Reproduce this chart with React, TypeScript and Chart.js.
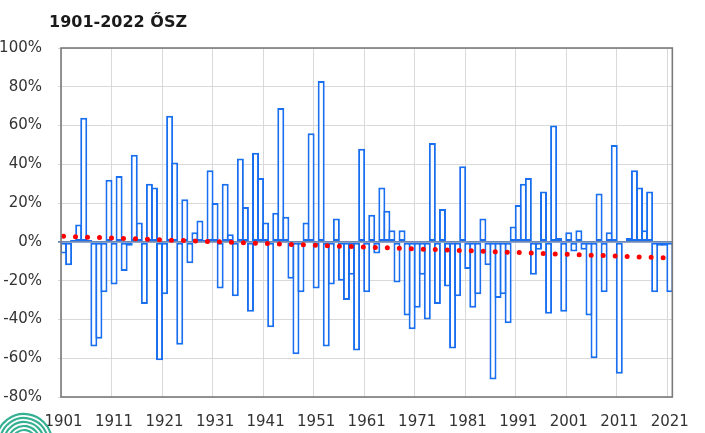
import React, { useEffect, useRef } from 'react';
import { Chart, registerables } from 'chart.js';

Chart.register(...registerables);

const titleText = '1901-2022 ŐSZ';
const firstYear = 1901;
const lastYear = 2021;
const years: string[] = [];
for (let y = firstYear; y <= lastYear; y++) years.push(String(y));

// autumn precipitation anomaly, % (1901 ... 2021)
const autumnAnomaly = [
  -6, -12, 1, 9, 64, 1, -54, -50, -26, 32,
  -22, 34, -15, -2, 45, 10, -32, 30, 28, -61,
  -27, 65, 41, -53, 22, -11, 5, 11, 1, 37,
  20, -24, 30, 4, -28, 43, 18, -36, 46, 33,
  10, -44, 15, 69, 13, -19, -58, -26, 10, 56,
  -24, 83, -54, -22, 12, -20, -30, -17, -56, 48,
  -26, 14, -6, 28, 16, 6, -21, 6, -38, -45,
  -34, -17, -40, 51, -32, 17, -23, -55, -28, 39,
  -14, -34, -27, 12, -12, -71, -29, -27, -42, 8,
  19, 30, 33, -17, -4, 26, -37, 60, 2, -36,
  5, -5, 6, -4, -38, -60, 25, -26, 5, 50,
  -68, 0, 2, 37, 28, 6, 26, -26, -2, -2, -26,
];

// linear trend end values, %
const trendStart = 2.9;
const trendEnd = -8.3;

const xTickYears = ['1901', '1911', '1921', '1931', '1941', '1951', '1961', '1971', '1981', '1991', '2001', '2011', '2021'];
const yTickValues = [-80, -60, -40, -20, 0, 20, 40, 60, 80, 100];

const FONT = '"DejaVu Sans", sans-serif';

export default function App() {
  const ref = useRef<HTMLCanvasElement>(null);

  useEffect(() => {
    const canvas = ref.current!;
    const trendData = years.map((_, i) =>
      i === 0 ? trendStart : i === years.length - 1 ? trendEnd : null
    );

    const framePlugin = {
      id: 'frame',
      afterDatasetsDraw(chart: any) {
        const { ctx, chartArea: a } = chart;
        ctx.save();
        ctx.strokeStyle = '#7a7a7a';
        ctx.lineWidth = 1.6;
        ctx.strokeRect(a.left, a.top, a.right - a.left, a.bottom - a.top);
        ctx.restore();
      },
      afterDraw(chart: any) {
        const { ctx } = chart;
        ctx.save();
        ctx.font = `bold 16px ${FONT}`;
        ctx.fillStyle = '#1a1a1a';
        ctx.textBaseline = 'alphabetic';
        ctx.textAlign = 'left';
        ctx.fillText(titleText, 49, 27);
        // logo fragment
        ctx.strokeStyle = '#35b093';
        ctx.lineWidth = 2.2;
        for (let r = 8; r <= 28; r += 4) {
          ctx.beginPath();
          ctx.arc(24, 442, r, Math.PI * 1.05, Math.PI * 1.95);
          ctx.stroke();
        }
        ctx.restore();
      },
    };

    const chart = new Chart(canvas, {
      type: 'bar',
      data: {
        labels: years,
        datasets: [
          {
            type: 'line',
            data: trendData,
            borderColor: '#ff0000',
            borderWidth: 5,
            borderDash: [0, 12],
            borderCapStyle: 'round',
            pointRadius: 0,
            spanGaps: true,
            fill: false,
            order: 0,
          } as any,
          {
            type: 'bar',
            data: autumnAnomaly,
            backgroundColor: '#ffffff',
            borderColor: '#1a6ff0',
            borderWidth: 2,
            borderSkipped: false,
            barPercentage: 1.39,
            categoryPercentage: 1,
            order: 1,
          } as any,
        ],
      },
      options: {
        responsive: false,
        animation: false,
        layout: { padding: { top: 48, right: 22, left: 0, bottom: 0 } },
        plugins: {
          legend: { display: false },
          tooltip: { enabled: false },
          title: { display: false },
        },
        scales: {
          x: {
            type: 'category',
            offset: true,
            grid: {
              offset: true,
              color: (c: any) => (c.index % 10 === 0 ? '#d9d9d9' : 'rgba(0,0,0,0)'),
              drawTicks: false,
            },
            border: { display: false },
            ticks: {
              autoSkip: false,
              maxRotation: 0,
              minRotation: 0,
              padding: 16,
              color: '#333333',
              font: { family: FONT, size: 15 },
              callback: (_v: any, i: number) => (xTickYears.includes(years[i]) ? years[i] : ''),
            },
            afterFit: (s: any) => {
              s.height = 36;
            },
          },
          y: {
            min: -80,
            max: 100,
            afterBuildTicks: (s: any) => {
              s.ticks = yTickValues.map((v) => ({ value: v }));
            },
            ticks: {
              padding: 16,
              color: '#333333',
              font: { family: FONT, size: 15 },
              callback: (v: any) => `${v}%`,
            },
            grid: {
              color: (c: any) => (c.tick && c.tick.value === 0 ? '#6f88b3' : '#d9d9d9'),
              lineWidth: (c: any) => (c.tick && c.tick.value === 0 ? 1.8 : 1),
              tickLength: 3,
            },
            border: { display: false },
            afterFit: (s: any) => {
              s.width = 61;
            },
          },
        },
      } as any,
      plugins: [framePlugin],
    });
    return () => chart.destroy();
  }, []);

  return (
    <div style={{ position: 'fixed', left: 0, top: 0, width: 705, height: 433, background: '#ffffff' }}>
      <canvas ref={ref} width={705} height={433} style={{ display: 'block' }} />
    </div>
  );
}
